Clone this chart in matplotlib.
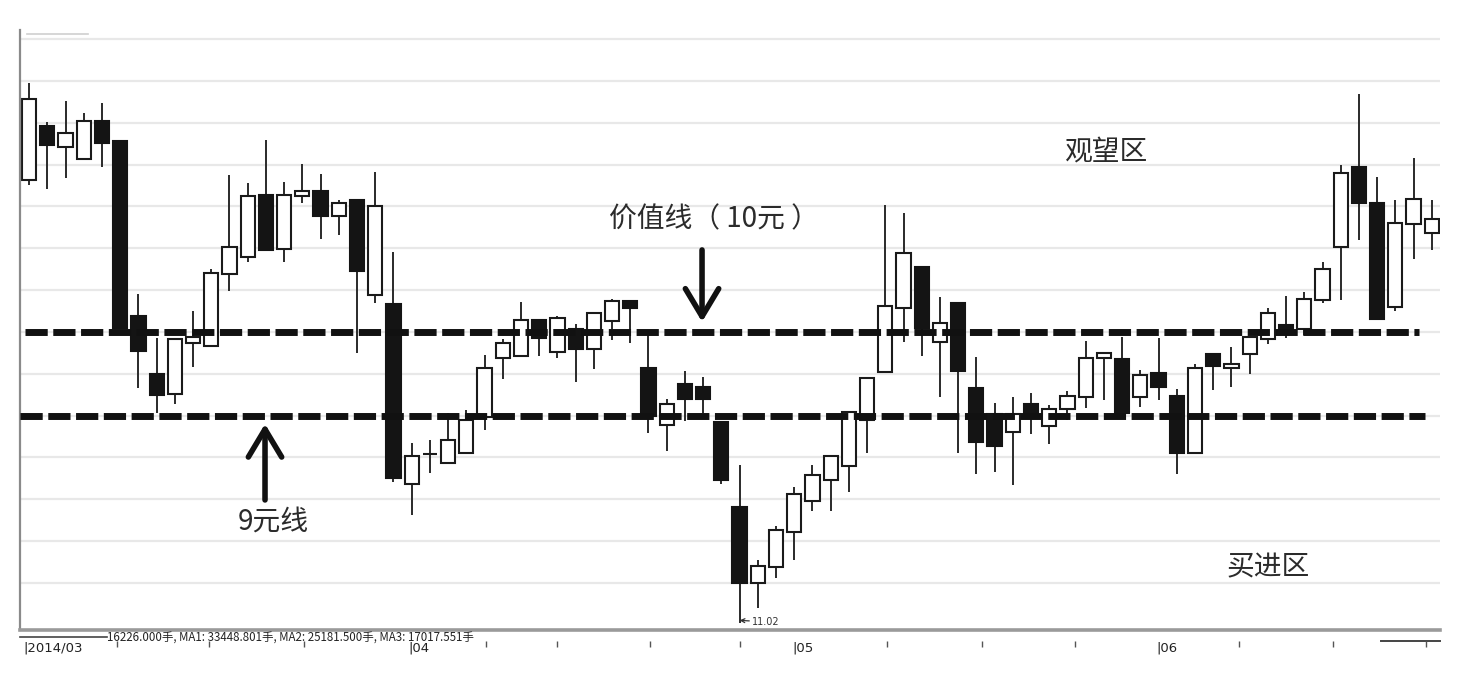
import numpy as np
import matplotlib
matplotlib.use("Agg")
import matplotlib.pyplot as plt
import matplotlib.transforms as mtransforms

plt.rcParams['font.family'] = ['Noto Sans CJK SC', 'DejaVu Sans']

# daily candles, 2014/03 .. 2014/06 (price)
opens = [11.82, 12.46, 12.21, 12.07, 12.52, 12.28, 10.19, 9.50, 9.26, 9.87,
         9.83, 10.69, 10.89, 11.64, 10.99, 11.63, 11.69, 11.38, 11.58, 10.44,
         10.33, 8.18, 8.54, 8.43, 8.55, 8.98, 9.69, 9.71, 10.14, 9.76,
         10.04, 9.80, 10.13, 10.37, 9.57, 8.89, 9.38, 9.34, 8.92, 7.91,
         7.00, 7.19, 7.61, 7.98, 8.23, 8.40, 8.95, 9.52, 10.28, 10.78,
         9.88, 10.35, 9.33, 9.02, 8.80, 9.14, 8.88, 9.08, 9.22, 9.69,
         9.67, 9.22, 9.51, 9.23, 8.55, 9.74, 9.57, 9.74, 9.92, 10.08,
         10.04, 10.38, 11.02, 11.97, 11.54, 10.30, 11.29, 11.18]
highs = [12.98, 12.51, 12.76, 12.62, 12.74, 12.28, 10.45, 9.93, 9.92, 10.25,
         10.75, 11.88, 11.78, 12.30, 11.79, 12.01, 11.89, 11.58, 11.58, 11.91,
         10.96, 8.67, 8.71, 9.03, 9.07, 9.72, 9.92, 10.36, 10.14, 10.19,
         10.10, 10.23, 10.39, 10.37, 9.96, 9.20, 9.53, 9.46, 8.92, 8.41,
         7.27, 7.68, 8.15, 8.41, 8.53, 9.04, 9.45, 11.52, 11.42, 10.78,
         10.42, 10.35, 9.70, 9.15, 9.22, 9.27, 9.13, 9.29, 9.89, 9.75,
         9.94, 9.55, 9.93, 9.32, 9.62, 9.74, 9.82, 9.94, 10.28, 10.43,
         10.48, 10.84, 12.00, 12.85, 11.85, 11.58, 12.08, 11.58]
lows = [11.76, 11.71, 11.84, 12.07, 11.97, 10.05, 9.33, 9.03, 9.14, 9.58,
        9.83, 10.49, 10.83, 10.98, 10.83, 11.54, 11.11, 11.16, 9.75, 10.35,
        8.21, 7.81, 8.31, 8.43, 8.55, 8.83, 9.44, 9.71, 9.71, 9.69,
        9.40, 9.56, 9.90, 9.87, 8.79, 8.58, 8.94, 9.03, 8.18, 6.52,
        6.70, 7.06, 7.27, 7.86, 7.86, 8.09, 8.55, 9.52, 9.88, 9.71,
        9.22, 8.55, 8.30, 8.33, 8.17, 8.78, 8.66, 8.95, 9.09, 9.19,
        9.03, 9.10, 9.19, 8.30, 8.55, 9.31, 9.34, 9.50, 9.86, 9.93,
        9.96, 10.35, 10.38, 11.10, 10.14, 10.25, 10.87, 10.98]
closes = [12.79, 12.24, 12.38, 12.52, 12.26, 10.05, 9.77, 9.25, 9.92, 9.94,
          10.71, 11.02, 11.63, 10.98, 11.64, 11.69, 11.38, 11.54, 10.73, 11.50,
          8.25, 8.52, 8.54, 8.71, 8.95, 9.57, 9.87, 10.14, 9.93, 10.17,
          9.80, 10.23, 10.37, 10.29, 9.00, 9.14, 9.20, 9.20, 8.23, 7.00,
          7.20, 7.63, 8.06, 8.29, 8.52, 9.04, 9.45, 10.31, 10.94, 10.05,
          10.11, 9.53, 8.68, 8.64, 9.02, 9.00, 9.08, 9.23, 9.69, 9.75,
          9.03, 9.49, 9.34, 8.55, 9.57, 9.59, 9.62, 9.94, 10.22, 10.00,
          10.39, 10.75, 11.90, 11.54, 10.16, 11.30, 11.59, 11.35]

value_line = 10.0
nine_line = 9.0
month_labels = ['|2014/03', '|04', '|05', '|06']
month_pos = [-0.3, 20.8, 41.9, 61.9]
week_ticks = [4.8, 9.9, 15.1, 25.1, 29.0, 34.1, 39.0, 47.1, 52.3, 57.4, 66.4, 71.6, 76.7]
status_text = '16226.000手, MA1: 33448.801手, MA2: 25181.500手, MA3: 17017.551手'

o = np.array(opens)
h = np.array(highs)
l = np.array(lows)
c = np.array(closes)
idx = np.arange(len(o))

fig = plt.figure(figsize=(14.58, 6.74), dpi=100)
ax = fig.add_axes([20 / 1458, 1 - 630 / 674, 1420 / 1458, 600 / 674])
ax.set_xlim(-0.5, 77.45)
ax.set_ylim(6.435, 13.61)

# grid
for g in np.arange(7.0, 13.51, 0.5):
    ax.axhline(g, color='#e8e8e8', lw=1.6, zorder=0)
ax.plot([0.005, 0.048], [0.994, 0.994], transform=ax.transAxes, color='#cfcfcf', lw=1.2)

# candles
ax.vlines(idx, l, h, color='#2a2a2a', lw=1.4, zorder=1)
up = c >= o
bottom = np.minimum(o, c)
height = np.maximum(np.abs(c - o), 0.004)
ax.bar(idx[up], height[up], bottom=bottom[up], width=0.78, color='white',
       edgecolor='#1a1a1a', linewidth=1.5, zorder=2)
ax.bar(idx[~up], height[~up], bottom=bottom[~up], width=0.78, color='#141414',
       edgecolor='#141414', linewidth=1.5, zorder=2)

# value lines
ax.plot([-0.2, 76.3], [value_line, value_line], color='#111111', lw=5,
        linestyle=(0, (3.2, 0.8)), zorder=3)
ax.plot([-0.5, 76.6], [nine_line, nine_line], color='#111111', lw=5,
        linestyle=(0, (3.2, 0.8)), zorder=3)

# annotations
txt = dict(fontsize=20, color='#2b2b2b', ha='center', va='center')
ax.text(37.6, 11.34, '价值线（ 10元 ）', **txt)
ax.text(59.1, 12.15, '观望区', **txt)
ax.text(13.4, 7.73, '9元线', **txt)
ax.text(68.0, 7.18, '买进区', **txt)

arrow = dict(arrowstyle='->,head_length=2.0,head_width=1.2', lw=4,
             color='#111111', shrinkA=0, shrinkB=0)
ax.annotate('', xy=(36.94, value_line + 0.12), xytext=(36.94, 10.98), arrowprops=arrow)
ax.annotate('', xy=(12.95, nine_line - 0.1), xytext=(12.95, 7.99), arrowprops=arrow)

ax.annotate('11.02', xy=(39, l[39] + 0.03), xytext=(9, -1), textcoords='offset points',
            fontsize=7, color='#333333', family='DejaVu Sans', va='center',
            arrowprops=dict(arrowstyle='->', lw=0.9, color='#333333',
                            shrinkA=0, shrinkB=0))

# axes frame
for s in ['top', 'right']:
    ax.spines[s].set_visible(False)
ax.spines['left'].set_color('#8a8a8a')
ax.spines['left'].set_linewidth(1.6)
ax.spines['bottom'].set_color('#9a9a9a')
ax.spines['bottom'].set_linewidth(2.6)
ax.set_xticks([])
ax.set_yticks([])

trans = mtransforms.blended_transform_factory(ax.transData, ax.transAxes)
ax.plot([-0.5, 4.3], [-0.012, -0.012], transform=trans, color='#444444', lw=1.2, clip_on=False)
ax.text(4.3, -0.003, status_text, transform=trans, fontsize=8.3, color='#222222',
        ha='left', va='top', clip_on=False)
ax.plot([74.2, 77.45], [-0.018, -0.018], transform=trans, color='#444444', lw=1.4, clip_on=False)
ax.vlines(week_ticks, -0.028, -0.018, transform=trans, color='#555555', lw=1, clip_on=False)
for lab, p in zip(month_labels, month_pos):
    ax.text(p, -0.02, lab, transform=trans, fontsize=9.5, color='#222222',
            family='DejaVu Sans', ha='left', va='top', clip_on=False)

fig.savefig('out.png', dpi=100, facecolor='white')
